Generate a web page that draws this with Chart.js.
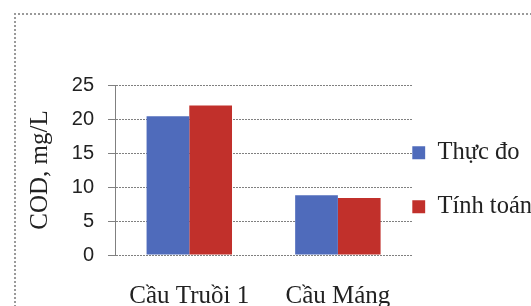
<html>

<head>
    <title>COD</title>
    <script src="https://cdn.jsdelivr.net/npm/chart.js"></script>
    <style>
        body { margin: 0; background: #fff; }
        #wrap { position: relative; width: 531px; height: 306px; overflow: hidden; }
        #frame {
            position: absolute; left: 14px; top: 13px; width: 600px; height: 400px;
            border-top: 2px dotted #9a9a9a; border-left: 2px dotted #9a9a9a;
        }
        canvas { position: absolute; left: 0; top: 0; }
    </style>
</head>

<body>
    <div id="wrap">
        <div id="frame"></div>
        <canvas id="myChart" width="531" height="306"></canvas>
    </div>

    <script>
        // values
        const stations = ['Cầu Truồi 1', 'Cầu Máng'];
        const measured = [20.4, 8.8];   // Thực đo
        const computed = [22.0, 8.4];   // Tính toán
        const yTicks = [0, 5, 10, 15, 20, 25];

        const serif = 'Liberation Serif';
        const gridGrey = '#808080';

        const data = {
            labels: stations,
            datasets: [
                {
                    label: 'Thực đo',
                    data: measured,
                    backgroundColor: '#4f6bbb',
                    categoryPercentage: 0.575,
                    barPercentage: 1
                },
                {
                    label: 'Tính toán',
                    data: computed,
                    backgroundColor: '#c1302b',
                    categoryPercentage: 0.575,
                    barPercentage: 1
                }
            ]
        };

        const config = {
            type: 'bar',
            data: data,
            options: {
                responsive: false,
                animation: false,
                layout: {
                    padding: { left: 15, top: 85, right: -11, bottom: 0 }
                },
                scales: {
                    x: {
                        grid: { display: false, drawTicks: false },
                        border: { display: false },
                        ticks: {
                            padding: 26,
                            color: '#222',
                            font: { family: serif, size: 25 }
                        },
                        afterFit: (s) => { s.height = 51; }
                    },
                    y: {
                        min: 0,
                        max: 25,
                        afterBuildTicks: (s) => { s.ticks = yTicks.map(v => ({ value: v })); },
                        grid: {
                            color: gridGrey,
                            tickLength: 7,
                            tickColor: gridGrey
                        },
                        border: { color: gridGrey, dash: [2, 1] },
                        ticks: {
                            padding: 14,
                            color: '#222',
                            font: { family: 'Liberation Sans', size: 20 }
                        },
                        title: {
                            display: true,
                            text: 'COD, mg/L',
                            color: '#222',
                            padding: { top: 10, bottom: 0 },
                            font: { family: serif, size: 25 }
                        },
                        afterFit: (s) => { s.width = 100; }
                    }
                },
                plugins: {
                    tooltip: { enabled: false },
                    legend: {
                        position: 'right',
                        align: 'start',
                        fullSize: false,
                        // blank title only pushes the items down
                        title: {
                            display: true,
                            text: ' ',
                            padding: { top: 41, bottom: 0 }
                        },
                        labels: {
                            padding: 0,
                            boxWidth: 13,
                            boxHeight: 13,
                            color: '#222',
                            font: { family: serif, size: 24.5, lineHeight: 1.102 },
                            generateLabels: (chart) => {
                                const items = Chart.defaults.plugins.legend.labels.generateLabels(chart);
                                items.forEach((it, i) => {
                                    it.lineWidth = 0;
                                    if (i < items.length - 1) it.text = [it.text, ''];
                                });
                                return items;
                            }
                        }
                    }
                }
            }
        };
    </script>

    <script>
        const myChart = new Chart(
            document.getElementById('myChart'),
            config
        );
    </script>

</body>

</html>
